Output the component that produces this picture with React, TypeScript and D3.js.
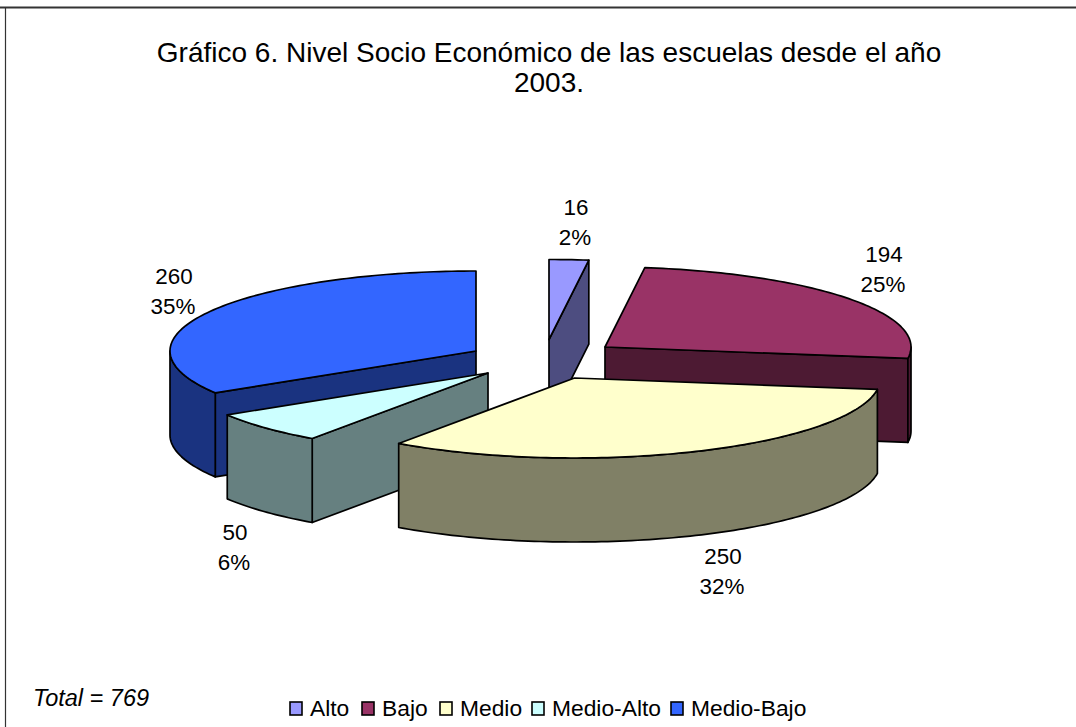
import React from "react";
import * as d3 from "d3";

const categories = ["Alto", "Bajo", "Medio", "Medio-Alto", "Medio-Bajo"];
const counts = [16, 194, 250, 50, 260];
const percents = ["2%", "25%", "32%", "6%", "35%"];
const topColors = ["#9999FF", "#993366", "#FFFFCC", "#CCFFFF", "#3366FF"];
const wallColors = ["#4D4D80", "#4D1A33", "#808066", "#668080", "#1A3380"];
// apex of every exploded slice in the picture
const apexX = [549, 605, 574.5, 488, 476];
const apexY = [339.5, 347, 378, 373, 351];
// which radial cut of the slice faces the viewer
const radialFace = ["end", "end", "", "start", "start"];
const labelX = [576, 884, 723, 235, 174];
const labelY = [215, 262, 564, 540, 284];
const drawOrder = [0, 1, 4, 3, 2];
const legendSwatchX = [290, 362, 440, 532, 671];
const titleLines = ["Gráfico 6. Nivel Socio Económico de las escuelas desde el año", "2003."];

const RX = 306;
const RY = 80;
const DEPTH = 84;
const FONT = "'Liberation Sans', Arial, sans-serif";

const pieAngles = d3.pie<number>().sort(null).value((d) => d)(counts);
const lineGen = d3.line<[number, number]>();

function pt(i: number, a: number, drop = 0): [number, number] {
  return [apexX[i] + RX * Math.sin(a), apexY[i] - RY * Math.cos(a) + drop];
}
function arcPts(i: number, a0: number, a1: number, drop = 0) {
  const n = Math.max(2, Math.ceil(Math.abs(a1 - a0) / 0.02));
  return d3.range(n + 1).map((k) => pt(i, a0 + ((a1 - a0) * k) / n, drop));
}
const apex = (i: number, drop = 0): [number, number] => [apexX[i], apexY[i] + drop];

function Slice({ i }: { i: number }) {
  const { startAngle: s, endAngle: e } = pieAngles[i];
  const top = lineGen([apex(i), ...arcPts(i, s, e)])! + "Z";
  const walls: string[] = [];
  const PI = Math.PI;
  const radial = (a: number) =>
    lineGen([apex(i), pt(i, a), pt(i, a, DEPTH), apex(i, DEPTH)])! + "Z";
  if (radialFace[i] === "end") walls.push(radial(e));
  if (radialFace[i] === "start") walls.push(radial(s));
  // outer curved wall: only the part facing the viewer (90deg..270deg)
  const c0 = Math.max(s, PI / 2);
  const c1 = Math.min(e, (3 * PI) / 2);
  if (c1 > c0) {
    walls.push(lineGen([...arcPts(i, c0, c1), ...arcPts(i, c1, c0, DEPTH)])! + "Z");
  }
  return (
    <g stroke="#000" strokeWidth={1.7} strokeLinejoin="round">
      {walls.map((d, k) => (
        <path key={k} d={d} fill={wallColors[i]} />
      ))}
      <path d={top} fill={topColors[i]} />
    </g>
  );
}

export default function App() {
  return (
    <svg
      width={1076}
      height={727}
      style={{ position: "absolute", left: 0, top: 0, background: "#fff" }}
      fontFamily={FONT}
    >
      <line x1={0} x2={1076} y1={7.5} y2={7.5} stroke="#333" strokeWidth={2} />
      <line x1={5.5} x2={5.5} y1={7} y2={727} stroke="#333" strokeWidth={1.2} />
      {titleLines.map((t, k) => (
        <text key={k} x={549} y={62 + k * 30} textAnchor="middle" fontSize={28} fill="#000">
          {t}
        </text>
      ))}
      {drawOrder.map((i) => (
        <Slice key={i} i={i} />
      ))}
      {categories.map((c, i) => (
        <text key={c} textAnchor="middle" fontSize={22.4} fill="#000">
          <tspan x={labelX[i]} y={labelY[i]}>{counts[i]}</tspan>
          <tspan x={labelX[i] - 1} y={labelY[i] + 30}>{percents[i]}</tspan>
        </text>
      ))}
      <text x={33} y={706} fontSize={23.5} fontStyle="italic" fill="#000">
        Total = 769
      </text>
      {categories.map((c, i) => (
        <g key={c}>
          <rect
            x={legendSwatchX[i]}
            y={702}
            width={12}
            height={13}
            fill={topColors[i]}
            stroke="#000"
            strokeWidth={1.6}
          />
          <text x={legendSwatchX[i] + 20} y={716} fontSize={22.8} fill="#000">
            {c}
          </text>
        </g>
      ))}
    </svg>
  );
}
